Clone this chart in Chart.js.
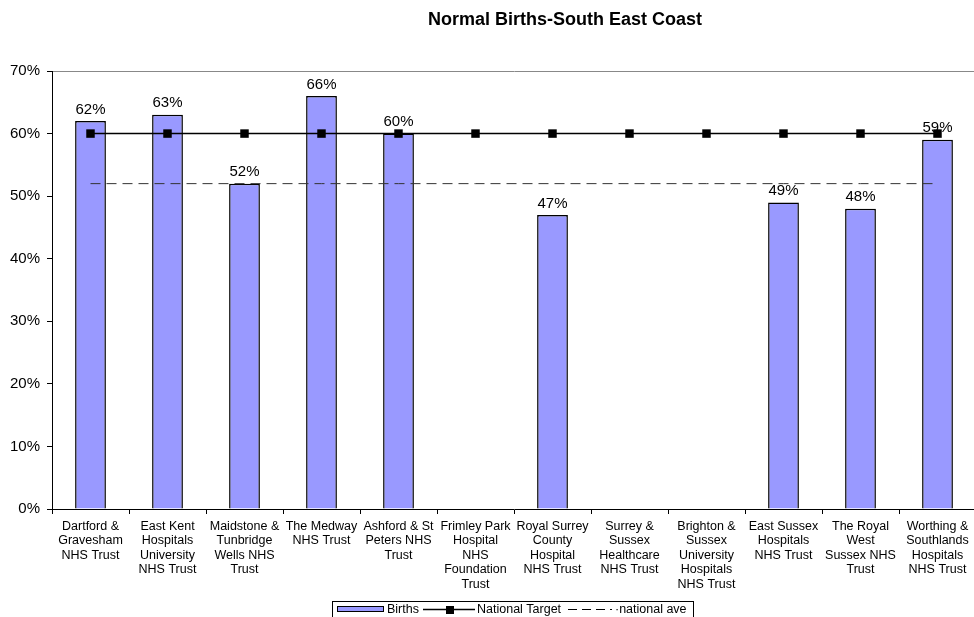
<!DOCTYPE html>
<html>
<head>
<meta charset="utf-8">
<title>Normal Births-South East Coast</title>
<script src="https://cdn.jsdelivr.net/npm/chart.js@4.4.0/dist/chart.umd.min.js"></script>
<style>
  html, body { margin: 0; padding: 0; background: #fff; overflow: hidden; }
  #wrap { width: 982px; height: 617px; position: relative; }
</style>
</head>
<body>
<div id="wrap"><canvas id="births"></canvas></div>
<script>
// Trusts (multi-line labels for the category axis)
const trusts = [
  ["Dartford &", "Gravesham", "NHS Trust"],
  ["East Kent", "Hospitals", "University", "NHS Trust"],
  ["Maidstone &", "Tunbridge", "Wells NHS", "Trust"],
  ["The Medway", "NHS Trust"],
  ["Ashford & St", "Peters NHS", "Trust"],
  ["Frimley Park", "Hospital", "NHS", "Foundation", "Trust"],
  ["Royal Surrey", "County", "Hospital", "NHS Trust"],
  ["Surrey &", "Sussex", "Healthcare", "NHS Trust"],
  ["Brighton &", "Sussex", "University", "Hospitals", "NHS Trust"],
  ["East Sussex", "Hospitals", "NHS Trust"],
  ["The Royal", "West", "Sussex NHS", "Trust"],
  ["Worthing &", "Southlands", "Hospitals", "NHS Trust"]
];

// % normal births per trust (no figure for three trusts)
const births = [62, 63, 52, 66, 60, null, 47, null, null, 49, 48, 59];
const nationalTarget = [60, 60, 60, 60, 60, 60, 60, 60, 60, 60, 60, 60];
const nationalAve = [52, 52, 52, 52, 52, 52, 52, 52, 52, 52, 52, 52];

const yTicks = [0, 10, 20, 30, 40, 50, 60, 70];

const FONT = "Arial, 'Liberation Sans', sans-serif";

// value labels above each bar
const barLabels = {
  id: "barLabels",
  afterDatasetsDraw(chart) {
    const ctx = chart.ctx;
    const meta = chart.getDatasetMeta(0);
    ctx.save();
    ctx.font = "15px " + FONT;
    ctx.fillStyle = "#000";
    ctx.textAlign = "center";
    ctx.textBaseline = "bottom";
    meta.data.forEach((bar, i) => {
      if (births[i] == null) return;
      ctx.fillText(births[i] + "%", bar.x, bar.y - 4);
    });
    ctx.restore();
  }
};

// title + boxed legend along the bottom
const frame = {
  id: "frame",
  afterDraw(chart) {
    const ctx = chart.ctx;
    ctx.save();
    ctx.fillStyle = "#000";
    ctx.font = "bold 18px " + FONT;
    ctx.textAlign = "center";
    ctx.textBaseline = "middle";
    ctx.fillText("Normal Births-South East Coast", 565, 20);

    // legend box
    ctx.strokeStyle = "#000";
    ctx.lineWidth = 1;
    ctx.strokeRect(332.5, 601.5, 361, 30);

    // Births swatch
    ctx.fillStyle = "#9999FF";
    ctx.fillRect(337, 606, 47, 6);
    ctx.strokeRect(337.5, 606.5, 46, 5);

    ctx.font = "12.5px " + FONT;
    ctx.textAlign = "left";
    ctx.fillStyle = "#000";
    ctx.fillText("Births", 387, 609.5);

    // National Target sample
    ctx.beginPath();
    ctx.moveTo(423, 609.5);
    ctx.lineTo(475, 609.5);
    ctx.lineWidth = 1.5;
    ctx.stroke();
    ctx.fillRect(446, 606, 8, 8);
    ctx.fillText("National Target", 477, 609.5);

    // national ave sample
    ctx.lineWidth = 1;
    ctx.setLineDash([9, 5]);
    ctx.beginPath();
    ctx.moveTo(568, 609.5);
    ctx.lineTo(612, 609.5);
    ctx.stroke();
    ctx.setLineDash([]);
    ctx.fillText("\u00b7national ave", 615, 609.5);
    ctx.restore();
  }
};

new Chart(document.getElementById("births"), {
  type: "bar",
  data: {
    labels: trusts,
    datasets: [
      {
        label: "Births",
        data: births,
        backgroundColor: "#9999FF",
        borderColor: "#000",
        borderWidth: 1.5,
        barPercentage: 0.4,
        categoryPercentage: 1.0,
        order: 3
      },
      {
        type: "line",
        label: "National Target",
        data: nationalTarget,
        borderColor: "#000",
        borderWidth: 1.5,
        backgroundColor: "#000",
        pointStyle: "rect",
        pointRadius: 6,
        pointBorderWidth: 0,
        fill: false,
        order: 1
      },
      {
        type: "line",
        label: "national ave",
        data: nationalAve,
        borderColor: "#333",
        borderWidth: 1,
        borderDash: [10, 6],
        pointRadius: 0,
        fill: false,
        order: 2
      }
    ]
  },
  options: {
    responsive: true,
    maintainAspectRatio: false,
    animation: false,
    events: [],
    layout: { padding: { top: 71, right: 0, bottom: 0, left: 0 } },
    plugins: {
      legend: { display: false },
      title: { display: false },
      tooltip: { enabled: false }
    },
    scales: {
      x: {
        grid: { drawOnChartArea: false, color: "#000", tickLength: 5, offset: true },
        border: { color: "#000", width: 1 },
        ticks: {
          color: "#000",
          font: { family: FONT, size: 12.5, lineHeight: "14.5px" },
          padding: 5,
          autoSkip: false,
          maxRotation: 0,
          minRotation: 0
        },
        afterFit(scale) { scale.height = 617 - 509; }
      },
      y: {
        min: 0,
        max: 70,
        afterBuildTicks(scale) { scale.ticks = yTicks.map(v => ({ value: v })); },
        grid: {
          color: ctx => (ctx.tick && ctx.tick.value === 70 ? "#888" : "rgba(0,0,0,0)"),
          tickColor: "#000",
          tickLength: 5,
          drawTicks: true
        },
        border: { color: "#000", width: 1 },
        ticks: {
          color: "#000",
          font: { family: FONT, size: 15 },
          padding: 7,
          callback: v => v + "%"
        },
        afterFit(scale) { scale.width = 52; }
      }
    }
  },
  plugins: [barLabels, frame]
});
</script>
</body>
</html>
